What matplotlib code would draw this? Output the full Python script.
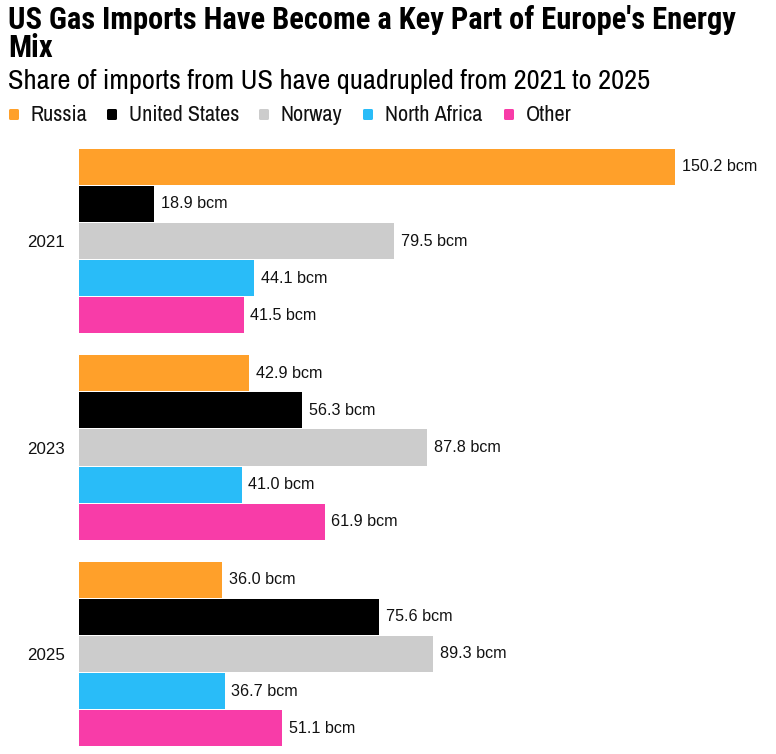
import numpy as np
import matplotlib
matplotlib.use("Agg")
import matplotlib.pyplot as plt
from matplotlib.patches import FancyBboxPatch

# ------------------------------------------------
# Datos
# ------------------------------------------------
years = ["2021", "2023", "2025"]
sources = ["Russia", "United States", "Norway", "North Africa", "Other"]
russia = [150.2, 42.9, 36.0]
united_states = [18.9, 56.3, 75.6]
norway = [79.5, 87.8, 89.3]
north_africa = [44.1, 41.0, 36.7]
other = [41.5, 61.9, 51.1]
series = [russia, united_states, norway, north_africa, other]
colors = ["#FFA02A", "#000000", "#CCCCCC", "#29BCF8", "#F83CA8"]

narrow = ["Archivo Narrow", "DejaVu Sans"]
narrow_bold = ["Roboto Condensed", "DejaVu Sans"]
plt.rcParams["font.family"] = ["Liberation Sans", "DejaVu Sans"]

fig = plt.figure(figsize=(7.76, 7.54), dpi=100)
W, H = 776, 754
# ejes en pixeles: x 79..776, y 148..747
ax = fig.add_axes([79 / W, 1 - 747 / H, (776 - 79) / W, (747 - 148) / H])

gap = 0.55
n = len(sources)
group_step = n + gap
for g, year in enumerate(years):
    for s in range(n):
        y = g * group_step + s + 0.5
        val = series[s][g]
        ax.barh(y, val, height=0.97, color=colors[s], linewidth=0)
        ax.text(val + 1.7, y, f"{val:.1f} bcm", va="center", ha="left",
                fontsize=11.6, color="#111111")

ax.set_ylim(len(years) * group_step - gap, 0)
ax.set_xlim(0, 697 / (596 / 150.2))
ax.set_yticks([g * group_step + n / 2 for g in range(len(years))])
ax.set_yticklabels(years, fontsize=12.2, color="#111111")
ax.tick_params(axis="y", length=0, pad=10)
ax.set_xticks([])
for sp in ax.spines.values():
    sp.set_visible(False)

# ------------------------------------------------
# Titulo, subtitulo y leyenda
# ------------------------------------------------
# con varias lineas, va="baseline" se alinea con la ultima linea
fig.text(8 / W, 1 - 57 / H, "US Gas Imports Have Become a Key Part of Europe's Energy\nMix",
         fontsize=22, fontweight="bold", family=narrow_bold, va="baseline",
         linespacing=0.92, color="#000000")
fig.text(8 / W, 1 - 89 / H, "Share of imports from US have quadrupled from 2021 to 2025",
         fontsize=20.5, family=narrow, va="baseline", color="#000000")

leg_x = [8, 106, 258, 362, 503]
for x0, name, c in zip(leg_x, sources, colors):
    fig.patches.append(FancyBboxPatch(((x0 + 1) / W, 1 - 120 / H), 10 / W, 11 / H,
                                      boxstyle="round,pad=0,rounding_size=0.002",
                                      transform=fig.transFigure, color=c, linewidth=0))
    fig.text((x0 + 23) / W, 1 - 121 / H, name, fontsize=16, family=narrow,
             va="baseline", color="#111111")

fig.savefig("out.png", dpi=100)
